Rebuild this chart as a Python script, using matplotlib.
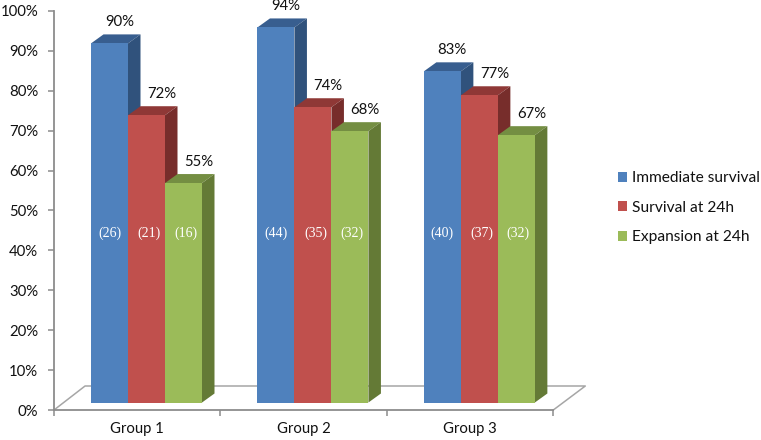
import matplotlib
matplotlib.use("Agg")
import matplotlib.pyplot as plt
from matplotlib.patches import Polygon

groups = ["Group 1", "Group 2", "Group 3"]
immediate_survival = [90, 94, 83]
survival_24h = [72, 74, 77]
expansion_24h = [55, 68, 67]
immediate_n = [26, 44, 40]
survival_n = [21, 35, 37]
expansion_n = [16, 32, 32]
series_names = ["Immediate survival", "Survival at 24h", "Expansion at 24h"]
y_ticks = list(range(0, 101, 10))

W, H = 761, 440
X0, X1, Y0, Y100 = 54.0, 553.3, 410.0, 11.0
GRAY = "#8c8c8c"
FRONT = ["#4f81bd", "#c0504d", "#9bbb59"]
TOP = ["#385e8f", "#8f3836", "#748e42"]
SIDE = ["#30527c", "#772d2b", "#647a36"]

plt.rcParams["font.family"] = ["Lato", "DejaVu Sans"]
fig = plt.figure(figsize=(W / 100, H / 100), dpi=100, facecolor="white")
ax = fig.add_axes([X0 / W, 1 - Y0 / H, (X1 - X0) / W, (Y0 - Y100) / H])
ax.set_xlim(0, 3)
ax.set_ylim(0, 100)
ax.patch.set_visible(False)

ux = (X1 - X0) / 3        # px per group
uy = (Y0 - Y100) / 100    # px per percent
bar_w = 37 / ux
gap = 37 / ux
dx = 12.5 / ux
dy = 9 / uy
base = 7.5 / uy
floor_dx = 32 / ux
floor_dy = 24 / uy

# floor
ax.plot([0, floor_dx * 0.97, 3 + floor_dx, 3], [0, floor_dy, floor_dy, 0],
        color="#a6a6a6", lw=1.1, clip_on=False, zorder=1)

values = [immediate_survival, survival_24h, expansion_24h]
counts = [immediate_n, survival_n, expansion_n]
count_shift = [0, 3, 2]
label_shift = [10, 15, 15]
handles = []
for s, (vals, ns) in enumerate(zip(values, counts)):
    xs = [g + gap + s * bar_w for g in range(len(groups))]
    z = 2 + s
    bars = ax.bar(xs, vals, width=bar_w, bottom=base, align="edge",
                  color=FRONT[s], linewidth=0, label=series_names[s], zorder=z + 0.2)
    handles.append(bars)
    for x, v, n in zip(xs, vals, ns):
        top = base + v
        r = x + bar_w
        ax.add_patch(Polygon([(x, top), (r, top), (r + dx, top + dy), (x + dx, top + dy)],
                             closed=True, fc=TOP[s], ec="none", zorder=z, clip_on=False))
        ax.add_patch(Polygon([(r, base), (r, top), (r + dx, top + dy), (r + dx, base + dy)],
                             closed=True, fc=SIDE[s], ec="none", zorder=z, clip_on=False))
        ax.annotate(f"{v}%", (x + bar_w / 2, top), xytext=(label_shift[s] * 0.72, 21.3 * 0.72),
                    textcoords="offset points", ha="center", va="center",
                    fontsize=10.7, color="#111111", zorder=10, annotation_clip=False)
        ax.annotate(f"({n})", (x + bar_w / 2, 44.4), xytext=(count_shift[s] * 0.72, 0),
                    textcoords="offset points", ha="center", va="center",
                    fontsize=10, color="white", family="Liberation Serif", zorder=10)

for side in ("top", "right"):
    ax.spines[side].set_visible(False)
for side in ("left", "bottom"):
    ax.spines[side].set_color(GRAY)
    ax.spines[side].set_linewidth(1.3)

ax.set_yticks(y_ticks)
ax.set_yticklabels([f"{t}%" for t in y_ticks], fontsize=10.7, color="#111111")
ax.tick_params(axis="y", direction="out", length=4.5, width=1.1, color=GRAY, pad=7)
ax.set_xticks(range(len(groups) + 1))
ax.set_xticklabels([""] * (len(groups) + 1))
ax.tick_params(axis="x", direction="out", length=4, width=1.1, color=GRAY)
for g, name in enumerate(groups):
    ax.annotate(name, (g + 0.5, 0), xytext=(0, -18.5 * 0.72), textcoords="offset points",
                ha="center", va="center", fontsize=10.7, color="#111111", annotation_clip=False)

fig.legend(handles=handles, labels=series_names, loc="upper left",
           bbox_to_anchor=(617.5 / W, 1 - 171 / H), frameon=False, fontsize=11.2,
           borderpad=0, borderaxespad=0, labelspacing=1.0, handlelength=0.61,
           handleheight=0.61, handletextpad=0.33, labelcolor="#111111")

fig.savefig("out.png", dpi=100, facecolor="white")
